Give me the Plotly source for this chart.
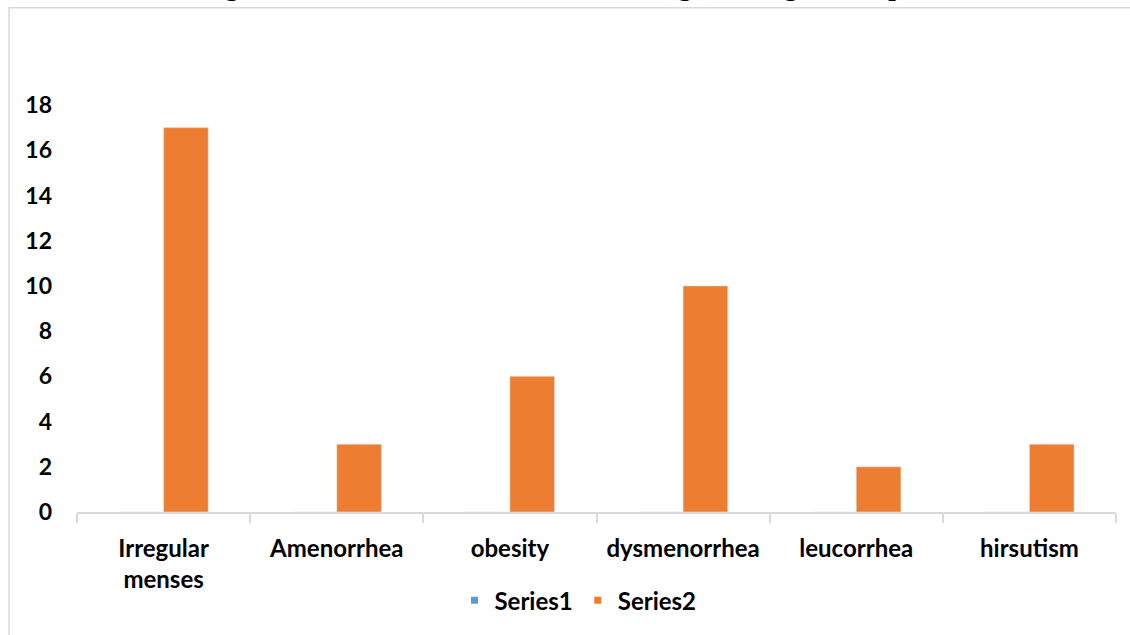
import plotly.graph_objects as go

categories = ["Irregular<br>menses", "Amenorrhea", "obesity", "dysmenorrhea", "leucorrhea", "hirsutism"]
series1 = [0, 0, 0, 0, 0, 0]
series2 = [17, 3, 6, 10, 2, 3]
y_ticks = [0, 2, 4, 6, 8, 10, 12, 14, 16, 18]

BLUE = "#5b9bd5"
ORANGE = "#ed7d31"
FRAME = "#d9d9d9"
FONT = "Lato"

fig = go.Figure()
fig.add_trace(go.Bar(x=categories, y=series1, name="Series1", marker_color=BLUE, showlegend=False))
fig.add_trace(go.Bar(x=categories, y=series2, name="Series2", marker_color=ORANGE, showlegend=False))

# small square legend keys
for name, col in [("Series1", BLUE), ("Series2", ORANGE)]:
    fig.add_trace(go.Scatter(x=[None], y=[None], mode="markers", name=name,
                             marker=dict(symbol="square", size=7, color=col)))

fig.update_layout(
    width=1130, height=635,
    margin=dict(l=77, r=14, t=105, b=121),
    paper_bgcolor="white", plot_bgcolor="white",
    barmode="group", bargap=0.484, bargroupgap=0,
    font=dict(family=FONT, size=22, color="black"),
    showlegend=True,
    legend=dict(orientation="h", x=0.3633, xanchor="left", y=-0.2176, yanchor="middle",
                font=dict(family=FONT, size=24, color="black", weight="bold"),
                itemwidth=30, bgcolor="rgba(0,0,0,0)"),
    xaxis=dict(
        showline=True, linecolor=FRAME, linewidth=1.5,
        ticks="outside", tickson="boundaries", ticklen=9, tickwidth=1.5, tickcolor=FRAME,
        ticklabelstandoff=14,
        tickfont=dict(family=FONT, size=24, color="black", weight="bold"),
        showgrid=False, fixedrange=True,
    ),
    yaxis=dict(
        range=[0, 18], tickvals=y_ticks, ticktext=[str(v) for v in y_ticks],
        showline=False, showgrid=False, zeroline=False,
        ticks="", ticklabelstandoff=24,
        tickfont=dict(family=FONT, size=23, color="black", weight="bold"),
    ),
)

# chart frame (top and left edges visible)
fig.add_shape(type="rect", xref="paper", yref="paper",
              x0=-0.0654, x1=1.06, y0=-0.34, y1=1.239,
              line=dict(color=FRAME, width=1.5), fillcolor="rgba(0,0,0,0)", layer="below")

fig.add_annotation(
    text="Figure 1: Distribution of disease according to the age of the patient",
    xref="paper", yref="paper", x=0.489, y=1.2505, xanchor="center", yanchor="bottom",
    showarrow=False,
    font=dict(family="Liberation Serif", size=27, color="black", weight="bold"),
)

fig.write_html("out.html")
